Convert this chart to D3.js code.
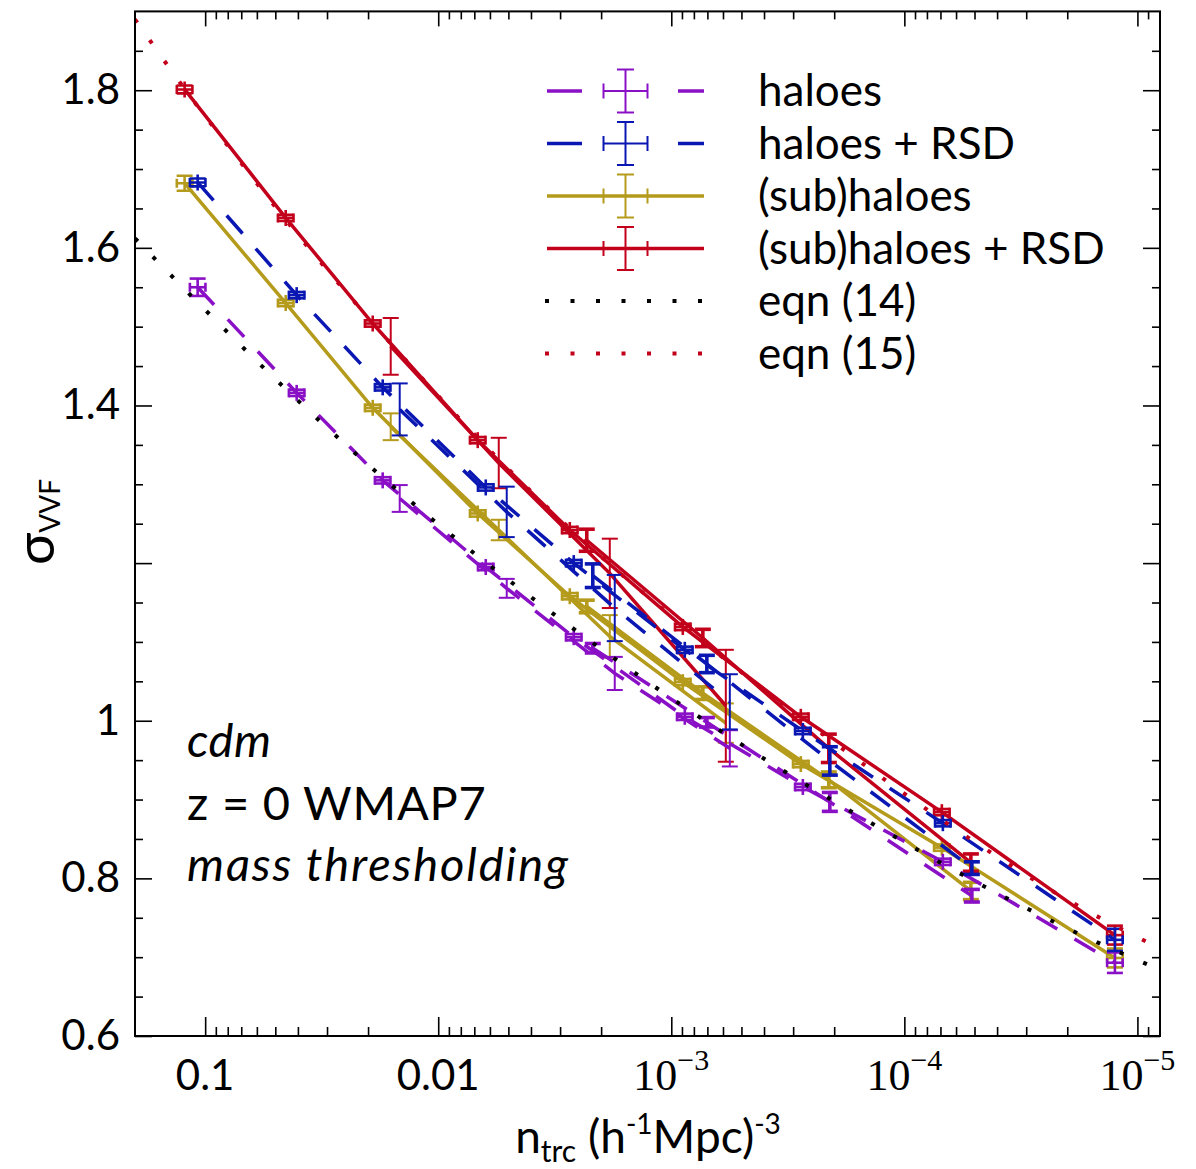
<!DOCTYPE html>
<html><head><meta charset="utf-8">
<script src="https://cdn.jsdelivr.net/npm/d3@7"></script>
<style>body{margin:0;background:#fff} svg{display:block}</style>
</head><body>
<svg id="c" width="1196" height="1169"></svg>
<script>
// ---------------- data ----------------
const seriesNames = ["haloes", "haloes + RSD", "(sub)haloes", "(sub)haloes + RSD"];
const eqnNames = ["eqn (14)", "eqn (15)"];

// tracer number densities n_trc (h^-1 Mpc)^-3 for the three simulation runs
const nSub1  = [0.1225, 0.04512, 0.01910, 0.006768, 0.002726, 8.925e-4, 2.781e-4, 6.904e-5, 1.249e-5];
const nHalo1 = [0.1077, 0.04049, 0.01731, 0.006253, 0.002621, 8.75e-4, 2.726e-4, 6.836e-5, 1.249e-5];
const nSub2  = [0.01599, 0.005499, 0.001836, 5.835e-4];
const nHalo2 = [0.01463, 0.005082, 0.001748, 5.609e-4];
const nSub3  = [0.002305, 7.322e-4, 2.109e-4, 5.183e-5];
const nHalo3 = [0.002172, 7.038e-4, 2.088e-4, 5.132e-5];
const xErrRun1 = 0.08;   // fractional error in n for run 1

// sigma_VVF values and errors
const haloes1     = [1.550, 1.416, 1.305, 1.195, 1.106, 1.005, 0.916, 0.821, 0.693];
const haloes1Err  = [0.011, 0.004, 0.004, 0.004, 0.004, 0.004, 0.004, 0.004, 0.013];
const haloes2     = [1.282, 1.168, 1.060, 0.965];
const haloes2Err  = [0.017, 0.012, 0.021, 0.023];
const haloes3     = [1.092, 0.998, 0.897, 0.778];
const haloes3Err  = [0.006, 0.006, 0.012, 0.008];

const haloesRSD1    = [1.683, 1.540, 1.423, 1.296, 1.200, 1.090, 0.987, 0.870, 0.722];
const haloesRSD1Err = [0.005, 0.004, 0.004, 0.004, 0.004, 0.004, 0.004, 0.004, 0.014];
const haloesRSD2    = [1.395, 1.265, 1.143, 1.024];
const haloesRSD2Err = [0.033, 0.032, 0.042, 0.035];
const haloesRSD3    = [1.184, 1.072, 0.949, 0.813];
const haloesRSD3Err = [0.015, 0.011, 0.018, 0.008];

const sub1     = [1.682, 1.530, 1.397, 1.263, 1.158, 1.049, 0.945, 0.839, 0.699];
const sub1Err  = [0.0095, 0.004, 0.004, 0.004, 0.004, 0.004, 0.004, 0.004, 0.012];
const sub2     = [1.373, 1.242, 1.107, 0.997];
const sub2Err  = [0.017, 0.013, 0.027, 0.025];
const sub3     = [1.145, 1.035, 0.925, 0.784];
const sub3Err  = [0.008, 0.008, 0.010, 0.011];

const subRSD1    = [1.801, 1.638, 1.504, 1.356, 1.242, 1.119, 1.005, 0.884, 0.728];
const subRSD1Err = [0.005, 0.004, 0.004, 0.004, 0.004, 0.004, 0.004, 0.004, 0.012];
const subRSD2    = [1.475, 1.327, 1.187, 1.019];
const subRSD2Err = [0.036, 0.032, 0.044, 0.071];
const subRSD3    = [1.229, 1.105, 0.965, 0.820];
const subRSD3Err = [0.014, 0.011, 0.018, 0.011];

// model curves
const eqn14N = [0.2, 0.0998, 0.0490, 0.01968, 0.007546, 0.002808, 0.001015, 3.56e-4, 1.511e-4, 4.089e-5, 1.668e-5, 8e-6];
const eqn14S = [1.612, 1.521, 1.431, 1.323, 1.220, 1.123, 1.030, 0.9425, 0.8765, 0.7827, 0.7256, 0.684];
const eqn15N = [0.2, 0.1299, 0.0711, 0.04527, 0.02358, 0.006768, 0.002726, 8.925e-4, 2.809e-4, 3.97e-5, 2.088e-5, 8e-6];
const eqn15S = [1.890, 1.812, 1.710, 1.636, 1.536, 1.359, 1.244, 1.121, 1.005, 0.827, 0.776, 0.711];

// axes
const xDomain = [0.2, 8e-6];
const yDomain = [0.6, 1.9];
const xMajor = [1e-1, 1e-2, 1e-3, 1e-4, 1e-5];
const xLabelBase = ["0.1", "0.01", "10", "10", "10"];
const xLabelExp  = ["", "", "\u22123", "\u22124", "\u22125"];
const yMajor = [0.6, 0.8, 1.0, 1.2, 1.4, 1.6, 1.8];
const yLabels = ["0.6", "0.8", "1", "", "1.4", "1.6", "1.8"];

// ---------------- styles ----------------
const colors = ["#8a10c6", "#0b17b2", "#b59b1c", "#c3001b"];
const dashed = [true, true, false, false];
const SANS = "Lato, 'Open Sans', sans-serif";
const SERIF = "'Liberation Serif', 'DejaVu Serif', serif";

const runs = [
  [{n: nHalo1, s: haloes1, e: haloes1Err, xe: xErrRun1, w: 2.6}, {n: nHalo2, s: haloes2, e: haloes2Err, xe: 0, w: 2}, {n: nHalo3, s: haloes3, e: haloes3Err, xe: 0, w: 3.6}],
  [{n: nHalo1, s: haloesRSD1, e: haloesRSD1Err, xe: xErrRun1, w: 2.6}, {n: nHalo2, s: haloesRSD2, e: haloesRSD2Err, xe: 0, w: 2}, {n: nHalo3, s: haloesRSD3, e: haloesRSD3Err, xe: 0, w: 3.6}],
  [{n: nSub1, s: sub1, e: sub1Err, xe: xErrRun1, w: 2.6}, {n: nSub2, s: sub2, e: sub2Err, xe: 0, w: 2}, {n: nSub3, s: sub3, e: sub3Err, xe: 0, w: 3.6}],
  [{n: nSub1, s: subRSD1, e: subRSD1Err, xe: xErrRun1, w: 2.6}, {n: nSub2, s: subRSD2, e: subRSD2Err, xe: 0, w: 2}, {n: nSub3, s: subRSD3, e: subRSD3Err, xe: 0, w: 3.6}]
];

// ---------------- chart ----------------
const svg = d3.select("#c");
const L = 135, R = 1160, T = 11.4, B = 1036;
const x = d3.scaleLog().domain(xDomain).range([L, R]);
const y = d3.scaleLinear().domain(yDomain).range([B, T]);

svg.append("defs").append("clipPath").attr("id", "clip")
  .append("rect").attr("x", L).attr("y", T).attr("width", R - L).attr("height", B - T);

const plot = svg.append("g").attr("clip-path", "url(#clip)");
const line = d3.line().x(d => x(d[0])).y(d => y(d[1]));
const CAP = 8, XCAP = 4.5, PLUS = 8;

function seg(g, x1, y1, x2, y2, col, w) {
  g.append("line").attr("x1", x1).attr("x2", x2).attr("y1", y1).attr("y2", y2).attr("stroke", col).attr("stroke-width", w);
}
function drawSeries(si) {
  const col = colors[si];
  const g = plot.append("g");
  runs[si].forEach(run => {
    const pts = run.n.map((n, i) => [n, run.s[i], run.e[i]]);
    g.append("path").attr("d", line(pts)).attr("fill", "none").attr("stroke", col)
      .attr("stroke-width", 3.5).attr("stroke-dasharray", dashed[si] ? "24,20" : null);
    pts.forEach(p => {
      const px = x(p[0]), py = y(p[1]), y1 = y(p[1] - p[2]), y2 = y(p[1] + p[2]);
      const half = Math.max(py - y2, run.xe > 0 ? PLUS : 0);
      seg(g, px, py - half, px, py + half, col, run.w);
      [y1, y2].forEach(yy => seg(g, px - CAP, yy, px + CAP, yy, col, run.w));
      if (run.xe > 0) {
        const xa = x(p[0] * (1 + run.xe)), xb = x(p[0] / (1 + run.xe));
        seg(g, xa, py, xb, py, col, run.w);
        [xa, xb].forEach(xx => seg(g, xx, py - XCAP, xx, py + XCAP, col, run.w));
      }
    });
  });
}
[2, 3, 0, 1].forEach(drawSeries);

// model curves (dotted)
const curve = d3.line().x(d => x(d[0])).y(d => y(d[1])).curve(d3.curveMonotoneX);
plot.append("path").attr("d", curve(eqn14N.map((n, i) => [n, eqn14S[i]])))
  .attr("fill", "none").attr("stroke", "#000").attr("stroke-width", 4).attr("stroke-dasharray", "4,21.5");
plot.append("path").attr("d", curve(eqn15N.map((n, i) => [n, eqn15S[i]])))
  .attr("fill", "none").attr("stroke", colors[3]).attr("stroke-width", 4).attr("stroke-dasharray", "4,21.5");

// ---------------- axes ----------------
const yMinor = d3.range(13, 38).filter(i => i % 4 !== 0).map(i => i * 0.05);
const xMinor = [];
for (let m = -1; m >= -6; m--) for (let k = 2; k <= 9; k++) {
  const v = k * Math.pow(10, m);
  if (v < xDomain[0] * 0.999 && v > xDomain[1] * 1.001) xMinor.push(v);
}
function styleAxis(g) {
  g.select(".domain").remove();
  g.selectAll(".tick line").attr("stroke", "#000").attr("stroke-width", 1.6);
  g.selectAll(".tick text").attr("font-family", SANS).attr("font-size", 42).attr("fill", "#000");
}
svg.append("g").attr("transform", `translate(${L},0)`)
  .call(d3.axisLeft(y).tickValues(yMajor).tickSize(-17).tickPadding(15).tickFormat((d, i) => yLabels[i])).call(styleAxis);
svg.append("g").attr("transform", `translate(${L},0)`)
  .call(d3.axisLeft(y).tickValues(yMinor).tickSize(-8).tickFormat("")).call(styleAxis);
svg.append("g").attr("transform", `translate(${R},0)`)
  .call(d3.axisRight(y).tickValues(yMajor).tickSize(-17).tickFormat("")).call(styleAxis);
svg.append("g").attr("transform", `translate(${R},0)`)
  .call(d3.axisRight(y).tickValues(yMinor).tickSize(-8).tickFormat("")).call(styleAxis);
svg.append("g").attr("transform", `translate(0,${B})`)
  .call(d3.axisBottom(x).tickValues(xMajor).tickSize(-19).tickFormat("")).call(styleAxis);
svg.append("g").attr("transform", `translate(0,${B})`)
  .call(d3.axisBottom(x).tickValues(xMinor).tickSize(-9).tickFormat("")).call(styleAxis);
svg.append("g").attr("transform", `translate(0,${T})`)
  .call(d3.axisTop(x).tickValues(xMajor).tickSize(-15).tickFormat("")).call(styleAxis);
svg.append("g").attr("transform", `translate(0,${T})`)
  .call(d3.axisTop(x).tickValues(xMinor).tickSize(-8).tickFormat("")).call(styleAxis);

svg.append("rect").attr("x", L).attr("y", T).attr("width", R - L).attr("height", B - T)
  .attr("fill", "none").attr("stroke", "#000").attr("stroke-width", 2);

// x tick labels
xMajor.forEach((v, i) => {
  const t = svg.append("text").attr("x", x(v)).attr("y", 1090).attr("text-anchor", "middle").attr("fill", "#000");
  if (xLabelExp[i] === "") {
    t.attr("font-family", SANS).attr("font-size", 42).text(xLabelBase[i]);
  } else {
    t.attr("font-family", SERIF).attr("font-size", 44);
    t.append("tspan").text(xLabelBase[i]);
    t.append("tspan").attr("font-size", 30).attr("dy", -20).text(xLabelExp[i]);
  }
});

// axis titles
const xt = svg.append("text").attr("x", 648).attr("y", 1153).attr("text-anchor", "middle")
  .attr("font-family", SANS).attr("font-size", 46).attr("fill", "#000");
xt.append("tspan").text("n");
xt.append("tspan").attr("font-size", 30).attr("dy", 9).text("trc");
xt.append("tspan").attr("dy", -9).text(" (h");
xt.append("tspan").attr("font-size", 28).attr("dy", -19).text("-1");
xt.append("tspan").attr("dy", 19).text("Mpc)");
xt.append("tspan").attr("font-size", 28).attr("dy", -19).text("-3");

const yt = svg.append("text").attr("transform", "translate(54,522) rotate(-90)").attr("text-anchor", "middle")
  .attr("font-family", SANS).attr("font-size", 54).attr("fill", "#000");
yt.append("tspan").text("\u03c3");
yt.append("tspan").attr("font-size", 28).attr("dy", 6).text("VVF");

// annotations
const ann = [["cdm", "italic", 757, 0.5], ["z = 0 WMAP7", "normal", 820, 0.8], ["mass thresholding", "italic", 881, 1.9]];
ann.forEach(a => svg.append("text").attr("x", 187).attr("y", a[2]).attr("font-family", SANS)
  .attr("font-size", 47).attr("font-style", a[1]).attr("letter-spacing", a[3]).attr("fill", "#000").text(a[0]));

// ---------------- legend ----------------
const legY = [91, 143.5, 196, 248.5, 301, 353.5];
const lx0 = 547, lx1 = 704, lxm = 625.5;
seriesNames.forEach((name, i) => {
  const col = colors[i], yy = legY[i];
  const g = svg.append("g");
  g.append("line").attr("x1", lx0).attr("x2", lx1).attr("y1", yy).attr("y2", yy).attr("stroke", col)
    .attr("stroke-width", 3.5).attr("stroke-dasharray", dashed[i] ? "35,96,26" : null);
  seg(g, lxm, yy - 21.5, lxm, yy + 21.5, col, 2);
  [yy - 21.5, yy + 21.5].forEach(v => seg(g, lxm - 8.5, v, lxm + 8.5, v, col, 2));
  seg(g, lxm - 22, yy, lxm + 22, yy, col, 2);
  [lxm - 22, lxm + 22].forEach(v => seg(g, v, yy - 7.5, v, yy + 7.5, col, 2));
  g.append("text").attr("x", 758).attr("y", yy + 15).attr("font-family", SANS).attr("font-size", 44).attr("fill", "#000").text(name);
});
eqnNames.forEach((name, j) => {
  const yy = legY[4 + j];
  svg.append("line").attr("x1", lx0 - 2).attr("x2", lx1).attr("y1", yy).attr("y2", yy)
    .attr("stroke", j === 0 ? "#000" : colors[3]).attr("stroke-width", 4).attr("stroke-dasharray", "4,21.5");
  svg.append("text").attr("x", 758).attr("y", yy + 15).attr("font-family", SANS).attr("font-size", 44).attr("fill", "#000").text(name);
});
</script>
</body></html>
